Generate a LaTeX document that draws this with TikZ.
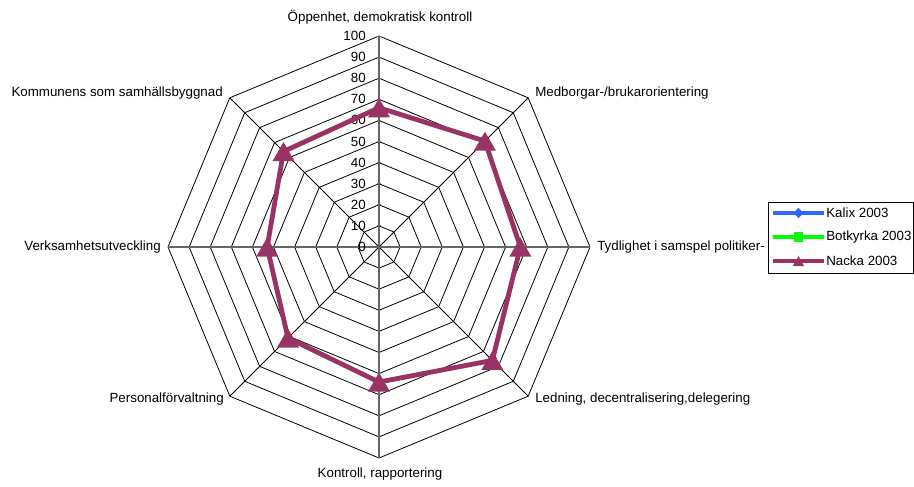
\documentclass[tikz,border=0pt]{standalone}
\usepackage{fontspec}
\setmainfont{Liberation Sans}
\usetikzlibrary{shapes.geometric}

\definecolor{kalixblue}{RGB}{51,102,255}
\definecolor{botkyrkagreen}{RGB}{0,255,0}
\definecolor{nackaplum}{RGB}{153,51,102}

\tikzset{
  ring/.style={black, line width=0.6pt},
  mainaxis/.style={gray!80!black, line width=0.9pt},
  lbl/.style={font=\fontsize{10}{12}\selectfont, inner sep=0pt},
  series/.style={line width=3.6pt, line join=round},
  trimark/.style={regular polygon, regular polygon sides=3, fill=nackaplum,
    inner sep=0pt, minimum size=19pt, yshift=-2.4pt},
}

\begin{document}
\begin{tikzpicture}[x=0.75pt,y=0.75pt]
\useasboundingbox (0,0) rectangle (914,486);
\coordinate (C) at (379,239);

\begin{scope}[shift={(C)}]
% rings 10..100
\foreach \v in {10,20,...,100} {
  \pgfmathsetmacro{\r}{2.11*\v}
  \draw[ring] (90:\r) -- (45:\r) -- (0:\r) -- (-45:\r) -- (-90:\r)
    -- (-135:\r) -- (180:\r) -- (135:\r) -- cycle;
}
% spokes
\foreach \a in {45,135,-45,-135}
  \draw[ring] (0,0) -- (\a:211);
\draw[mainaxis] (0,-211) -- (0,211);
\draw[mainaxis] (-211,0) -- (211,0);
\foreach \v in {0,10,...,100}
  \draw[mainaxis, line width=0.6pt] (-2,2.11*\v) -- (2,2.11*\v);

% scale numbers
\foreach \v in {0,10,...,100}
  \node[lbl, anchor=east] (n\v) at (-13,2.11*\v) {\v};

% Nacka 2003
\coordinate (p1) at (90:2.11*66);
\coordinate (p2) at (45:2.11*71);
\coordinate (p3) at (0:2.11*67);
\coordinate (p4) at (-45:2.11*76);
\coordinate (p5) at (-90:2.11*64);
\coordinate (p6) at (-135:2.11*61);
\coordinate (p7) at (180:2.11*53);
\coordinate (p8) at (135:2.11*64);
\draw[series, nackaplum] (p1) -- (p2) -- (p3) -- (p4) -- (p5) -- (p6)
  -- (p7) -- (p8) -- cycle;
\foreach \p in {p1,p2,p3,p4,p5,p6,p7,p8}
  \node[trimark] (m\p) at (\p) {};
\end{scope}

% category labels
\node[lbl] (cat1) at (380,469) {Öppenhet, demokratisk kontroll};
\node[lbl, anchor=west] (cat2) at (535,393) {Medborgar-/brukarorientering};
\node[lbl, anchor=west] (cat3) at (597,239) {Tydlighet i samspel politiker-};
\node[lbl, anchor=west] (cat4) at (535,87) {Ledning, decentralisering,delegering};
\node[lbl] (cat5) at (380,12) {Kontroll, rapportering};
\node[lbl, anchor=east] (cat6) at (224,87) {Personalförvaltning};
\node[lbl, anchor=east] (cat7) at (161,239) {Verksamhetsutveckling};
\node[lbl, anchor=east] (cat8) at (223,393) {Kommunens som samhällsbyggnad};

% legend
\draw[ring] (768,213) rectangle (913,284);
\coordinate (k1) at (773,273);
\coordinate (k2) at (824,273);
\draw[series, kalixblue, line width=3.2pt] (k1) -- (k2);
\node[diamond, fill=kalixblue, inner sep=0pt, minimum size=8pt] (kalixmark) at (798.5,273) {};
\node[lbl, anchor=west] (kalix) at (826,273) {Kalix 2003};
\coordinate (b1) at (773,249);
\coordinate (b2) at (824,249);
\draw[series, botkyrkagreen, line width=3.2pt] (b1) -- (b2);
\node[rectangle, fill=botkyrkagreen, inner sep=0pt, minimum size=7pt] (botkyrkamark) at (798.5,249) {};
\node[lbl, anchor=west] (botkyrka) at (826,249) {Botkyrka 2003};
\coordinate (c1) at (773,225);
\coordinate (c2) at (824,225);
\draw[series, nackaplum, line width=3.2pt] (c1) -- (c2);
\node[trimark, minimum size=10pt, yshift=1pt] (nackamark) at (798.5,225) {};
\node[lbl, anchor=west] (nacka) at (826,225) {Nacka 2003};
\end{tikzpicture}
\end{document}
